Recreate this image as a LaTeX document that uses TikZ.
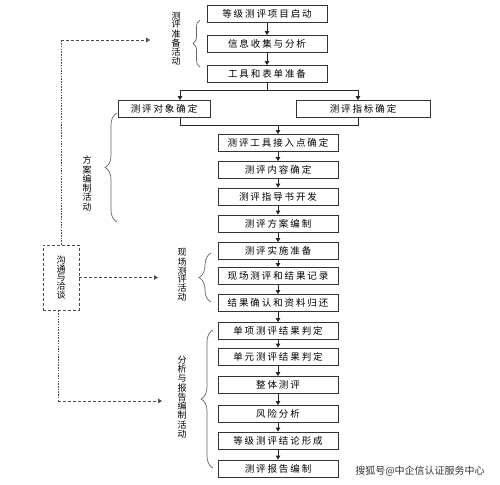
\documentclass[tikz,border=0pt]{standalone}
\usepackage{fontspec}
\setmainfont{Noto Sans CJK SC}
\newfontfamily\boxfont[LetterSpace=20]{Noto Sans CJK SC}
\usetikzlibrary{arrows.meta,decorations.pathreplacing}
\begin{document}
\begin{tikzpicture}[x=1pt,y=-1pt,
    box/.style={draw=black!80,line width=0.8pt,minimum width=120pt,minimum height=17pt,inner sep=0pt,font=\boxfont\fontsize{9.5}{10}\selectfont},
    link/.style={draw=black!85,line width=0.8pt},
    flow/.style={link,-{Triangle[length=4pt,width=4.5pt]}},
    talk/.style={draw=black!70,line width=0.8pt,dash pattern=on 3pt off 2pt,-{Triangle[length=4pt,width=4.5pt]}},
    talkv/.style={draw=black!70,line width=0.8pt,dash pattern=on 1.5pt off 1.2pt},
    vlabel/.style={align=center,inner sep=0pt,font=\fontsize{9}{8}\selectfont},
    group/.style={draw=black!60,line width=0.7pt,decorate,decoration={brace,amplitude=#1}}]
    \useasboundingbox (0,0) rectangle (500,484);
    % preparation
    \node[box] (a1) at (267,14) {等级测评项目启动};
    \node[box] (a2) at (267,44) {信息收集与分析};
    \node[box] (a3) at (267,74) {工具和表单准备};
    % scheme
    \node[box,minimum width=92pt] (dx) at (164,109) {测评对象确定};
    \node[box,minimum width=134pt] (zb) at (363,109) {测评指标确定};
    \node[box] (b1) at (278,143) {测评工具接入点确定};
    \node[box] (b2) at (278,170) {测评内容确定};
    \node[box] (b3) at (278,196.5) {测评指导书开发};
    \node[box] (b4) at (278,223.5) {测评方案编制};
    % on site
    \node[box] (c1) at (278,251) {测评实施准备};
    \node[box] (c2) at (278,276) {现场测评和结果记录};
    \node[box] (c3) at (278,303) {结果确认和资料归还};
    % analysis and report
    \node[box] (d1) at (278,331) {单项测评结果判定};
    \node[box] (d2) at (278,356.5) {单元测评结果判定};
    \node[box] (d3) at (278,385) {整体测评};
    \node[box] (d4) at (278,414) {风险分析};
    \node[box] (d5) at (278,440.5) {等级测评结论形成};
    \node[box] (d6) at (278,468.5) {测评报告编制};
    % flow
    \draw[flow] (a1) -- (a2);
    \draw[flow] (a2) -- (a3);
    \coordinate (spl) at (180,90);
    \coordinate (spr) at (358,90);
    \draw[link] (a3.south) -- (a3.south |- spl);
    \draw[link] (spl) -- (spr);
    \draw[flow] (spl) -- (spl |- dx.north);
    \draw[flow] (spr) -- (spr |- zb.north);
    \coordinate (mgl) at (180,125);
    \coordinate (mgr) at (358,125);
    \draw[link] (mgl |- dx.south) -- (mgl) -- (mgr) -- (mgr |- zb.south);
    \draw[flow] (b1.north |- mgl) -- (b1.north);
    \draw[flow] (b1) -- (b2);
    \draw[flow] (b2) -- (b3);
    \draw[flow] (b3) -- (b4);
    \draw[flow] (b4) -- (c1);
    \draw[flow] (c1) -- (c2);
    \draw[flow] (c2) -- (c3);
    \draw[flow] (c3) -- (d1);
    \draw[flow] (d1) -- (d2);
    \draw[flow] (d2) -- (d3);
    \draw[flow] (d3) -- (d4);
    \draw[flow] (d4) -- (d5);
    \draw[flow] (d5) -- (d6);
    % group labels
    \node[vlabel] (l1) at (176,39) {测\\评\\准\\备\\活\\动};
    \node[vlabel] (l2) at (87,183.5) {方\\案\\编\\制\\活\\动};
    \node[vlabel] (l3) at (182,275) {现\\场\\测\\评\\活\\动};
    \node[vlabel] (l4) at (182,397) {分\\析\\与\\报\\告\\编\\制\\活\\动};
    \draw[group=7pt] (200,67) -- (200,20);
    \draw[group=12pt] (117,222) -- (117,113);
    \draw[group=12pt] (211,302) -- (211,253);
    \draw[group=12pt] (213,468) -- (213,330);
    % communication
    \node[vlabel,draw=black!70,line width=0.8pt,dash pattern=on 3pt off 2pt,minimum width=36pt,minimum height=65pt] (gt) at (61,277.5) {沟\\通\\与\\洽\\谈};
    \coordinate (t1) at (61,40);
    \coordinate (t2) at (150,40);
    \coordinate (t3) at (158,277.5);
    \coordinate (t4) at (58,401);
    \coordinate (t5) at (162,401);
    \draw[talkv] (gt.north) -- (t1);
    \draw[talk] (t1) -- (t2);
    \draw[talk] (gt.east) -- (t3);
    \draw[talkv] ([xshift=-3pt]gt.south) -- (t4);
    \draw[talk] (t4) -- (t5);
    \node[font=\fontsize{10}{10}\selectfont,text=black!80] (wm) at (420,471) {搜狐号@中企信认证服务中心};
\end{tikzpicture}
\end{document}
